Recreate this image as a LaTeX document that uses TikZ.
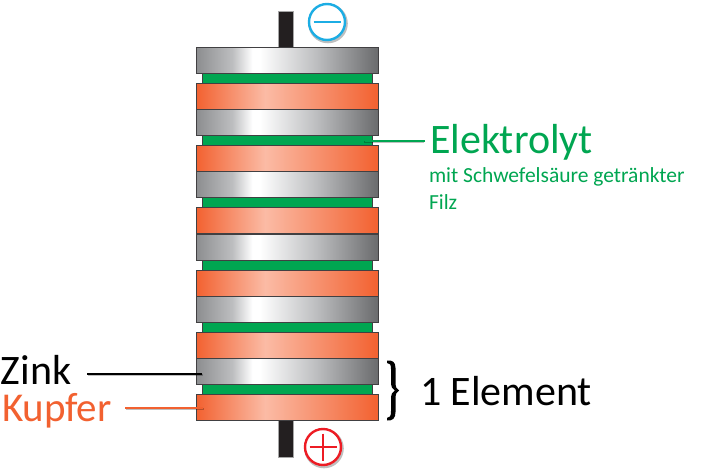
\documentclass[tikz,border=0pt]{standalone}
\usepackage{fontspec}
\setmainfont{Carlito}
\definecolor{edgegrey}{HTML}{414042}
\definecolor{feltgreen}{HTML}{00A651}
\definecolor{textgreen}{HTML}{00A651}
\definecolor{copperc}{HTML}{F26130}
\definecolor{copperl}{HTML}{FBBBA5}
\definecolor{zincl}{HTML}{8C8D8F}
\definecolor{zincm}{HTML}{BDBEC0}
\definecolor{zincr}{HTML}{6A6B6D}
\definecolor{termblack}{HTML}{231F20}
\definecolor{minusblue}{HTML}{1CADE4}
\definecolor{plusred}{HTML}{ED1C24}
\pgfdeclarehorizontalshading{zincshade}{100bp}{color(0bp)=(zincl); color(25bp)=(zincl); color(35bp)=(zincm); color(40.5bp)=(white); color(42.5bp)=(white); color(58bp)=(zincm); color(75bp)=(zincr); color(100bp)=(zincr)}
\pgfdeclarehorizontalshading{coppershade}{100bp}{color(0bp)=(copperc); color(25bp)=(copperc); color(44bp)=(copperl); color(75bp)=(copperc); color(100bp)=(copperc)}
\usetikzlibrary{calc}
\tikzset{
  disc/.style={draw=edgegrey,line width=1pt,inner sep=0pt,outer sep=0pt,anchor=north west,minimum width=182pt,minimum height=26pt},
  zincdisc/.style={disc,shading=zincshade},
  copperdisc/.style={disc,shading=coppershade},
  feltdisc/.style={draw=edgegrey,line width=1pt,fill=feltgreen,inner sep=0pt,outer sep=0pt,anchor=north west,minimum width=170pt,minimum height=10.2pt},
  terminal/.style={fill=termblack,draw=gray!70,line width=0.4pt,inner sep=0pt,outer sep=0pt,anchor=north west,minimum width=15pt,minimum height=36.5pt},
  polebase/.style={circle,fill=white,line width=2.4pt,inner sep=0pt,minimum size=36pt},
  label/.style={inner sep=0pt,outer sep=0pt,anchor=base west},
  leader/.style={line width=2pt},
  leadshadow/.style={line width=2pt,black,opacity=0.25}
}
\begin{document}
\begin{tikzpicture}[x=1pt,y=-1pt]
\useasboundingbox (0,0) rectangle (714,473);
\fill[white] (0,0) rectangle (714,473);
% terminals
\node[terminal] (topterm) at (278,11) {};
\node[terminal] (botterm) at (278,420.5) {};
% felt layers
\foreach \i/\y in {1/73.5,2/135.6,3/197.8,4/260,5/322,6/384.3}
  \node[feltdisc] (felt\i) at (202,\y) {};
% zinc and copper discs
\foreach \i/\y in {1/47.5,2/109.6,3/171.8,4/234,5/296,6/358.3}
  \node[zincdisc] (zinc\i) at (196,\y) {};
\foreach \i/\y in {1/83.3,2/145.5,3/207.8,4/270,5/332.3,6/394.5}
  \node[copperdisc] (copper\i) at (196,\y) {};
% pole marks
\fill[black,opacity=0.25] (328,23.5) circle (19.8pt);
\node[polebase,draw=minusblue] (minus) at (327,22) {};
\draw[minusblue,line width=1.3pt] (313.5,22) -- (340.5,22);
\fill[black,opacity=0.25] (324,448.5) circle (19.8pt);
\node[polebase,draw=plusred] (plus) at (323,447) {};
\draw[plusred,line width=1.3pt] (309.5,447) -- (336.5,447) (323,433.5) -- (323,460.5);
% labels
\node[label,text=textgreen,font=\fontsize{42}{44}\selectfont] (elektrolyt) at (430,153.5) {Elektrolyt};
\node[label,text=textgreen,font=\fontsize{21.5}{27}\selectfont,align=left,anchor=north west] (filz) at (429,168) {mit Schwefelsäure getränkter\\Filz};
\node[label,text=black,font=\fontsize{42}{44}\selectfont] (zink) at (1,384) {Zink};
\node[label,text=copperc,font=\fontsize{41}{44}\selectfont] (kupfer) at (2,421) {Kupfer};
\node[label,text=black,font=\fontsize{42}{44}\selectfont] (element) at (420,405) {1 Element};
% leader lines
\coordinate (zinkfrom) at (87,373.5);
\coordinate (zinkto) at (202,373.5);
\coordinate (kupferfrom) at (125,408);
\coordinate (kupferto) at (203,408);
\coordinate (elekfrom) at (425,141);
\coordinate (elekto) at (365,141);
\draw[leadshadow] ($(zinkfrom)+(1,1.2)$) -- ($(zinkto)+(1,1.2)$);
\draw[leadshadow] ($(kupferfrom)+(1,1.2)$) -- ($(kupferto)+(1,1.2)$);
\draw[leadshadow] ($(elekfrom)+(-1,1.2)$) -- ($(elekto)+(-1,1.2)$);
\draw[leader,black] (zinkfrom) -- (zinkto);
\draw[leader,copperc] (kupferfrom) -- (kupferto);
\draw[leader,feltgreen] (elekfrom) -- (elekto);
% brace
\fill[black] (387,360.5) .. controls (392.5,360) and (395.5,362) .. (395.5,368)
  -- (395.5,382) .. controls (395.5,387) and (396.5,389.5) .. (399,390.5)
  .. controls (396.5,391.5) and (395.5,394) .. (395.5,399)
  -- (395.5,412) .. controls (395.5,418.5) and (392.5,421) .. (387,420.5)
  -- (387,418) .. controls (390,418) and (391,416) .. (391,411)
  -- (391,399) .. controls (391,394) and (392.5,391.5) .. (395,390.5)
  .. controls (392.5,389.5) and (391,387) .. (391,382)
  -- (391,369) .. controls (391,364.5) and (390,363) .. (387,363) -- cycle;
\end{tikzpicture}
\end{document}
